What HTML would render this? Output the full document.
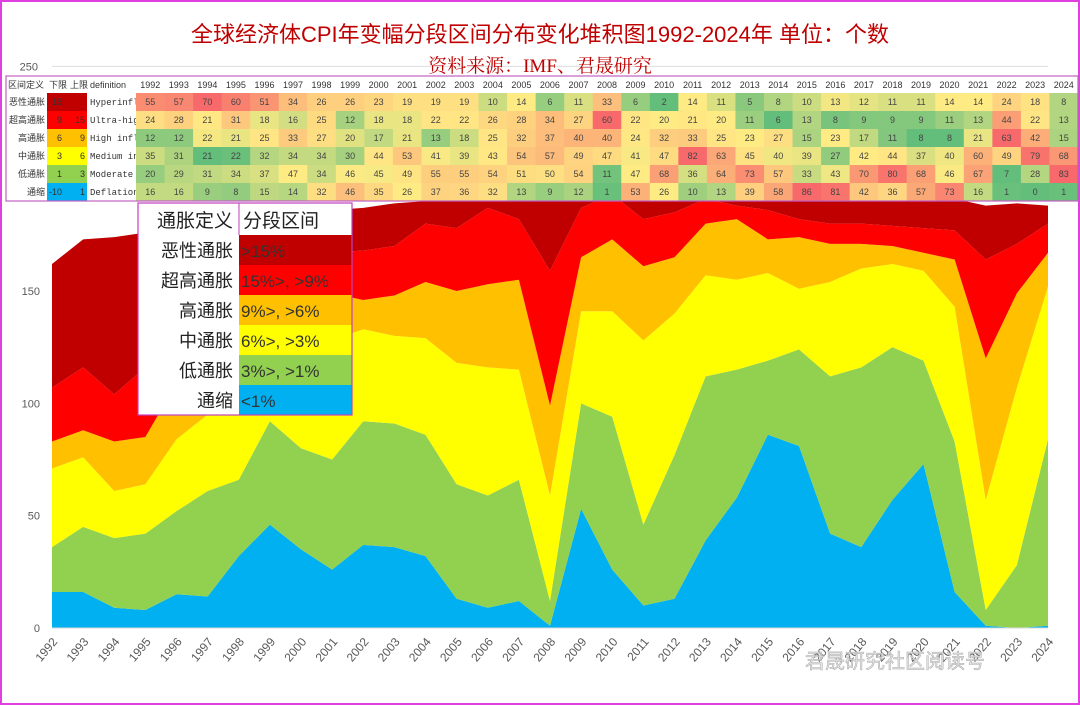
<!DOCTYPE html>
<html><head><meta charset="utf-8">
<style>
body{margin:0;background:#fff;}
#wrap{position:relative;width:1080px;height:705px;overflow:hidden;background:#fff;font-family:"Liberation Sans","Noto Sans CJK SC",sans-serif;}
</style></head>
<body>
<div id="wrap">
<svg id="svg" width="1080" height="705" xmlns="http://www.w3.org/2000/svg"></svg>
</div>
<script>
const years=[1992,1993,1994,1995,1996,1997,1998,1999,2000,2001,2002,2003,2004,2005,2006,2007,2008,2009,2010,2011,2012,2013,2014,2015,2016,2017,2018,2019,2020,2021,2022,2023,2024];
const hyper=[55,57,70,60,51,34,26,26,23,19,19,19,10,14,6,11,33,6,2,14,11,5,8,10,13,12,11,11,14,14,24,18,8];
const ultra=[24,28,21,31,18,16,25,12,18,18,22,22,26,28,34,27,60,22,20,21,20,11,6,13,8,9,9,9,11,13,44,22,13];
const high=[12,12,22,21,25,33,27,20,17,21,13,18,25,32,37,40,40,24,32,33,25,23,27,15,23,17,11,8,8,21,63,42,15];
const medium=[35,31,21,22,32,34,34,30,44,53,41,39,43,54,57,49,47,41,47,82,63,45,40,39,27,42,44,37,40,60,49,79,68];
const moderate=[20,29,31,34,37,47,34,46,45,49,55,55,54,51,50,54,11,47,68,36,64,73,57,33,43,70,80,68,46,67,7,28,83];
const deflation=[16,16,9,8,15,14,32,46,35,26,37,36,32,13,9,12,1,53,26,10,13,39,58,86,81,42,36,57,73,16,1,0,1];
const rowNames=["恶性通胀","超高通胀","高通胀","中通胀","低通胀","通缩"];
const lowers=["15","9","6","3","1","-10"];
const uppers=["","15","9","6","3","1"];
const defs=["Hyperinfl","Ultra-high","High infl","Medium in","Moderate","Deflation"];
const rowColors=["#C00000","#FF0000","#FFC000","#FFFF00","#92D050","#00B0F0"];
const yTicks=[0,50,100,150,250];
const legendRanges=[">15%","15%>, >9%","9%>, >6%","6%>, >3%","3%>, >1%","<1%"];

const svg=document.getElementById('svg');
const NS="http://www.w3.org/2000/svg";
function mk(tag,attrs,parent){const e=document.createElementNS(NS,tag);for(const k in attrs)e.setAttribute(k,attrs[k]);(parent||svg).appendChild(e);return e;}
const x0=52,x1=1048,yBase=628,yPer=2.2467;
const X=i=>x0+(x1-x0)*i/(years.length-1);
const Y=v=>yBase-v*yPer;

let fr=mk('rect',{x:1,y:1,width:1078,height:703,fill:'none',stroke:'#E040E0','stroke-width':2});



let g=mk('line',{x1:x0,x2:x1,y1:Y(250),y2:Y(250),stroke:'#ddd'});



yTicks.forEach(t=>{const e=mk('text',{x:t===250?38:40,y:Y(t)+4,'text-anchor':'end','font-size':11,fill:'#595959'});e.textContent=t;

});

const series=[deflation,moderate,medium,high,ultra,hyper];
const sColors=["#00B0F0","#92D050","#FFFF00","#FFC000","#FF0000","#C00000"];
const sNames=["deflation","moderate","medium","high","ultra","hyper"];
let cum=years.map(()=>0);
series.forEach((s,k)=>{
  const lo=cum.slice(); const hi=cum.map((c,i)=>c+s[i]);
  let d='M'+years.map((_,i)=>X(i)+','+Y(hi[i])).join(' L');
  for(let i=years.length-1;i>=0;i--)d+=' L'+X(i)+','+Y(lo[i]);
  d+='Z';
  const p=mk('path',{d:d,fill:sColors[k]});
  
  
  cum=hi;
});
let ax=mk('line',{x1:x0,x2:x1,y1:yBase,y2:yBase,stroke:'#d9d9d9'});



years.forEach((yr,i)=>{const e=mk('text',{x:X(i)+6,y:yBase+14,'text-anchor':'end','font-size':12,fill:'#595959',transform:'rotate(-50 '+(X(i)+6)+' '+(yBase+14)+')'});e.textContent=yr;

});

let t1=mk('text',{x:540,y:42,'text-anchor':'middle','font-size':22,fill:'#C00000','font-family':'"Liberation Sans","Noto Sans CJK SC",sans-serif'});t1.textContent='全球经济体CPI年变幅分段区间分布变化堆积图1992-2024年 单位：个数';


let t2=mk('text',{x:540,y:72,'text-anchor':'middle','font-size':19,fill:'#C00000','font-family':'"Liberation Serif","Noto Serif CJK SC",serif'});t2.textContent='资料来源：IMF、君晟研究';



const tx=6,ty=76,rh=18,colW=(1078-136)/years.length;
const tb=mk('g',{});


mk('rect',{x:tx,y:ty,width:1072,height:rh*6+17,fill:'#fff'},tb);
const hdr=["区间定义","下限","上限","definition"];const hx=[6,47,68,88];
hdr.forEach((h,i)=>{const e=mk('text',{x:hx[i]+2,y:ty+12,'font-size':9,fill:'#333'},tb);e.textContent=h;

});
years.forEach((yr,i)=>{const e=mk('text',{x:136+colW*(i+0.5),y:ty+12,'text-anchor':'middle','font-size':9,fill:'#333'},tb);e.textContent=yr;

});
function lerp(a,b,t){return Math.round(a+(b-a)*t);}
function scale(v,mn,md,mx){const G=[99,190,123],Yl=[255,235,132],R=[248,105,107];let a,b,t;if(v<=md){a=G;b=Yl;t=md===mn?0:(v-mn)/(md-mn);}else{a=Yl;b=R;t=(v-md)/(mx-md);}return 'rgb('+lerp(a[0],b[0],t)+','+lerp(a[1],b[1],t)+','+lerp(a[2],b[2],t)+')';}
[hyper,ultra,high,medium,moderate,deflation].forEach((row,r)=>{
  const yy=ty+17+r*rh;
  const sorted=row.slice().sort((a,b)=>a-b);const mn=sorted[0],mx=sorted[sorted.length-1],md=sorted[Math.floor(sorted.length/2)];
  let e=mk('text',{x:45,y:yy+12,'text-anchor':'end','font-size':9,fill:'#333'},tb);e.textContent=rowNames[r];
  
  
  mk('rect',{x:47,y:yy,width:40,height:rh,fill:rowColors[r]},tb);
  e=mk('text',{x:62,y:yy+12,'text-anchor':'end','font-size':9,fill:'#333'},tb);e.textContent=lowers[r];
  e=mk('text',{x:85,y:yy+12,'text-anchor':'end','font-size':9,fill:'#333'},tb);e.textContent=uppers[r];
  e=mk('text',{x:90,y:yy+12,'font-size':9,fill:'#333','font-family':'"Liberation Mono",monospace'},tb);e.textContent=defs[r];
  row.forEach((v,i)=>{
    const c=mk('rect',{x:136+colW*i,y:yy,width:colW+0.5,height:rh,fill:scale(v,mn,md,mx)},tb);
    
    
    const tt=mk('text',{x:136+colW*(i+0.5),y:yy+12,'text-anchor':'middle','font-size':9,fill:'#444'},tb);tt.textContent=v;
  });
});
mk('rect',{x:tx,y:ty,width:1072,height:rh*6+17,fill:'none',stroke:'#C060C0','stroke-width':1.2},tb);

const lg=mk('g',{});


const lx=138,ly=203,lw1=101,lw2=113,lh=30,hh=32;
mk('rect',{x:lx,y:ly,width:lw1+lw2,height:hh+lh*6,fill:'#fff'},lg);
let h1=mk('text',{x:lx+lw1-6,y:ly+24,'text-anchor':'end','font-size':19,fill:'#222'},lg);h1.textContent='通胀定义';
let h2=mk('text',{x:lx+lw1+4,y:ly+24,'font-size':19,fill:'#222'},lg);h2.textContent='分段区间';
for(let r=0;r<6;r++){
  const yy=ly+hh+r*lh;
  const e=mk('text',{x:lx+lw1-6,y:yy+22,'text-anchor':'end','font-size':18,fill:'#222'},lg);e.textContent=rowNames[r];
  
  
  mk('rect',{x:lx+lw1,y:yy,width:lw2,height:lh,fill:rowColors[r]},lg);
  const f=mk('text',{x:lx+lw1+2,y:yy+22,'font-size':17,fill:'#333'},lg);f.textContent=legendRanges[r];
}
mk('rect',{x:lx,y:ly,width:lw1+lw2,height:hh+lh*6,fill:'none',stroke:'#C040C0','stroke-width':1.2},lg);
mk('line',{x1:lx+lw1,x2:lx+lw1,y1:ly,y2:ly+hh,stroke:'#C040C0'},lg);

let wm=mk('text',{x:805,y:668,'font-size':20,fill:'#ddd','fill-opacity':0.8,stroke:'#aaa','stroke-width':0.5});wm.textContent='君晟研究社区阅读号';


</script>
</body></html>
